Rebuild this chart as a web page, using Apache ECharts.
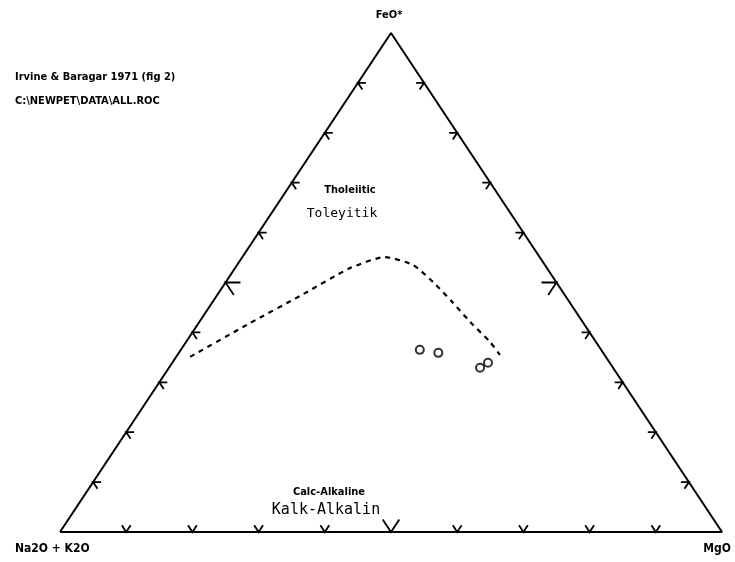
<!DOCTYPE html>
<html>
<head>
<meta charset="utf-8">
<script src="https://cdn.jsdelivr.net/npm/echarts@6/dist/echarts.min.js"></script>
<style>
  html, body { margin: 0; padding: 0; background: #fff; }
  #afm { width: 735px; height: 562px; }
</style>
</head>
<body>
<div id="afm"></div>
<script>
// AFM diagram, values in percent (FeO*, MgO); Na2O+K2O = 100 - FeO - MgO
var tickValues = [10, 20, 30, 40, 50, 60, 70, 80, 90];
var boundaryFeO = [35.1, 41.9, 47.3, 52.9, 55.1, 53.5, 50.1, 46.1, 42.1, 38.1, 35.5];
var boundaryMgO = [2.1, 7.8, 12.6, 17.4, 21.5, 26.6, 31.3, 36.2, 40.9, 45.9, 48.7];
var sampleFeO = [36.5, 35.9, 32.9, 33.9];
var sampleMgO = [36.1, 39.2, 47.0, 47.7];

function toXY(f, m) {
    return [(m + f / 2) / 100, f / 100];
}

var outline = [toXY(0, 0), toXY(100, 0), toXY(0, 100), toXY(0, 0)];
var boundary = boundaryFeO.map(function (f, i) { return toXY(f, boundaryMgO[i]); });
var samples = sampleFeO.map(function (f, i) { return toXY(f, sampleMgO[i]); });

// tick items: [FeO, MgO, side, tickValue]  side 0 = left, 1 = bottom, 2 = right
var ticks = [];
tickValues.forEach(function (t) {
    ticks.push([t, 0, 0, t]);
    ticks.push([0, t, 1, t]);
    ticks.push([t, 100 - t, 2, t]);
});

function renderTick(params, api) {
    var f = api.value(0), m = api.value(1), side = api.value(2), t = api.value(3);
    var d = 5;
    var dirs;
    if (side === 0) dirs = [[f, m + d], [f - d, m + d]];
    else if (side === 1) dirs = [[f + d, m], [f + d, m - d]];
    else dirs = [[f, m - d], [f - d, m]];
    var p = api.coord(toXY(f, m));
    var len = t === 50 ? 15 : 8;
    var pts = dirs.map(function (q) {
        var c = api.coord(toXY(q[0], q[1]));
        var dx = c[0] - p[0], dy = c[1] - p[1];
        var n = Math.sqrt(dx * dx + dy * dy);
        return [p[0] + dx / n * len, p[1] + dy / n * len];
    });
    return {
        type: 'polyline',
        shape: { points: [pts[0], p, pts[1]] },
        style: { stroke: '#000', lineWidth: 1.8, fill: null }
    };
}

var font = "'Liberation Sans Narrow', 'DejaVu Sans Condensed', sans-serif";
var mono = "'DejaVu Sans Mono', 'Liberation Mono', monospace";

var myChart = echarts.init(document.getElementById('afm'));
var option = {
    backgroundColor: '#fff',
    animation: false,
    grid: { left: 60, right: 13, top: 33, bottom: 30 },
    xAxis: { type: 'value', min: 0, max: 1, show: false },
    yAxis: { type: 'value', min: 0, max: 1, show: false },
    graphic: [
        { type: 'text', left: 15, top: 72, style: { text: 'Irvine & Baragar 1971 (fig 2)', font: 'bold 11px ' + font, fill: '#000' } },
        { type: 'text', left: 15, top: 96, style: { text: 'C:\\NEWPET\\DATA\\ALL.ROC', font: 'bold 11px ' + font, fill: '#000' } },
        { type: 'text', x: 389, y: 15, style: { text: 'FeO*', font: 'bold 11px ' + font, fill: '#000', align: 'center', verticalAlign: 'middle' } },
        { type: 'text', x: 15, y: 549, style: { text: 'Na2O + K2O', font: 'bold 12px ' + font, fill: '#000', verticalAlign: 'middle' } },
        { type: 'text', x: 731, y: 549, style: { text: 'MgO', font: 'bold 12px ' + font, fill: '#000', align: 'right', verticalAlign: 'middle' } },
        { type: 'text', x: 350, y: 190, style: { text: 'Tholeiitic', font: 'bold 11px ' + font, fill: '#000', align: 'center', verticalAlign: 'middle' } },
        { type: 'text', x: 342, y: 214, style: { text: 'Toleyitik', font: '13px ' + mono, fill: '#000', align: 'center', verticalAlign: 'middle' } },
        { type: 'text', x: 329, y: 492, style: { text: 'Calc-Alkaline', font: 'bold 11px ' + font, fill: '#000', align: 'center', verticalAlign: 'middle' } },
        { type: 'text', x: 326, y: 510, style: { text: 'Kalk-Alkalin', font: '15px ' + mono, fill: '#000', align: 'center', verticalAlign: 'middle' } }
    ],
    series: [
        {
            name: 'outline',
            type: 'line',
            data: outline,
            symbol: 'none',
            lineStyle: { color: '#000', width: 2 },
            silent: true
        },
        {
            name: 'ticks',
            type: 'custom',
            data: ticks,
            renderItem: renderTick,
            clip: false,
            silent: true
        },
        {
            name: 'boundary',
            type: 'line',
            data: boundary,
            symbol: 'none',
            smooth: 0.2,
            lineStyle: { color: '#000', width: 2.2, type: [5, 5] },
            silent: true
        },
        {
            name: 'samples',
            type: 'scatter',
            data: samples,
            symbol: 'circle',
            symbolSize: 8,
            itemStyle: { color: '#fff', borderColor: '#000', borderWidth: 2 }
        }
    ]
};
myChart.setOption(option);
</script>
</body>
</html>
